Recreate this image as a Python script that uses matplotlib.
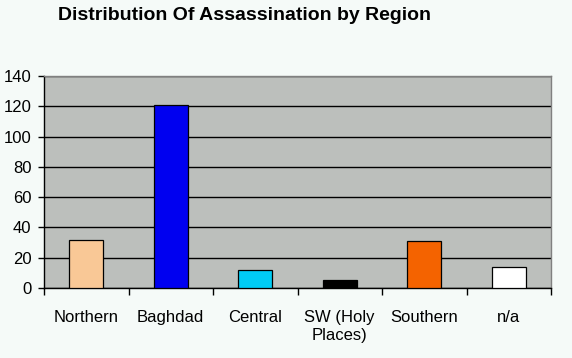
import matplotlib
matplotlib.use("Agg")
import matplotlib.pyplot as plt
import numpy as np

categories = ["Northern", "Baghdad", "Central", "SW (Holy\nPlaces)", "Southern", "n/a"]
values = [32, 121, 12, 5, 31, 14]
colors = ["#F9C896", "#0000F0", "#00CCF5", "#000000", "#F46300", "#FFFFFF"]
yticks = [0, 20, 40, 60, 80, 100, 120, 140]

plt.rcParams['font.family'] = ['Liberation Sans', 'DejaVu Sans']

fig = plt.figure(figsize=(5.72, 3.58), dpi=100)
fig.patch.set_facecolor("#F5FAF8")
ax = fig.add_axes([44/572, 1-288/358, (551-44)/572, (288-76)/358])
ax.set_facecolor("#BCBFBC")

x = np.arange(len(categories))
ax.bar(x, values, width=0.4, color=colors, edgecolor="black", linewidth=0.9, zorder=3)

ax.set_xlim(-0.5, len(categories) - 0.5)
ax.set_ylim(0, 140)
ax.set_yticks(yticks)
ax.yaxis.grid(True, color="black", linewidth=1.0, zorder=1)
ax.set_axisbelow(True)

ax.set_xticks(x)
ax.set_xticklabels(categories, fontsize=12, linespacing=1.2)
ax.set_xticks(np.arange(-0.5, len(categories)), minor=True)
ax.tick_params(axis='x', which='major', length=0, pad=16)
ax.tick_params(axis='x', which='minor', length=5, width=1, color='black')
ax.tick_params(axis='y', length=4, width=1, labelsize=12, pad=5)

for s in ['top', 'right']:
    ax.spines[s].set_color("#808080")
    ax.spines[s].set_linewidth(1.0)
for s in ['left', 'bottom']:
    ax.spines[s].set_color("black")
    ax.spines[s].set_linewidth(1.0)

fig.text(245/572, 1-15/358, "Distribution Of Assassination by Region",
         ha='center', va='center', fontsize=14, fontweight='bold')

fig.savefig("out.png", dpi=100, facecolor=fig.get_facecolor())
